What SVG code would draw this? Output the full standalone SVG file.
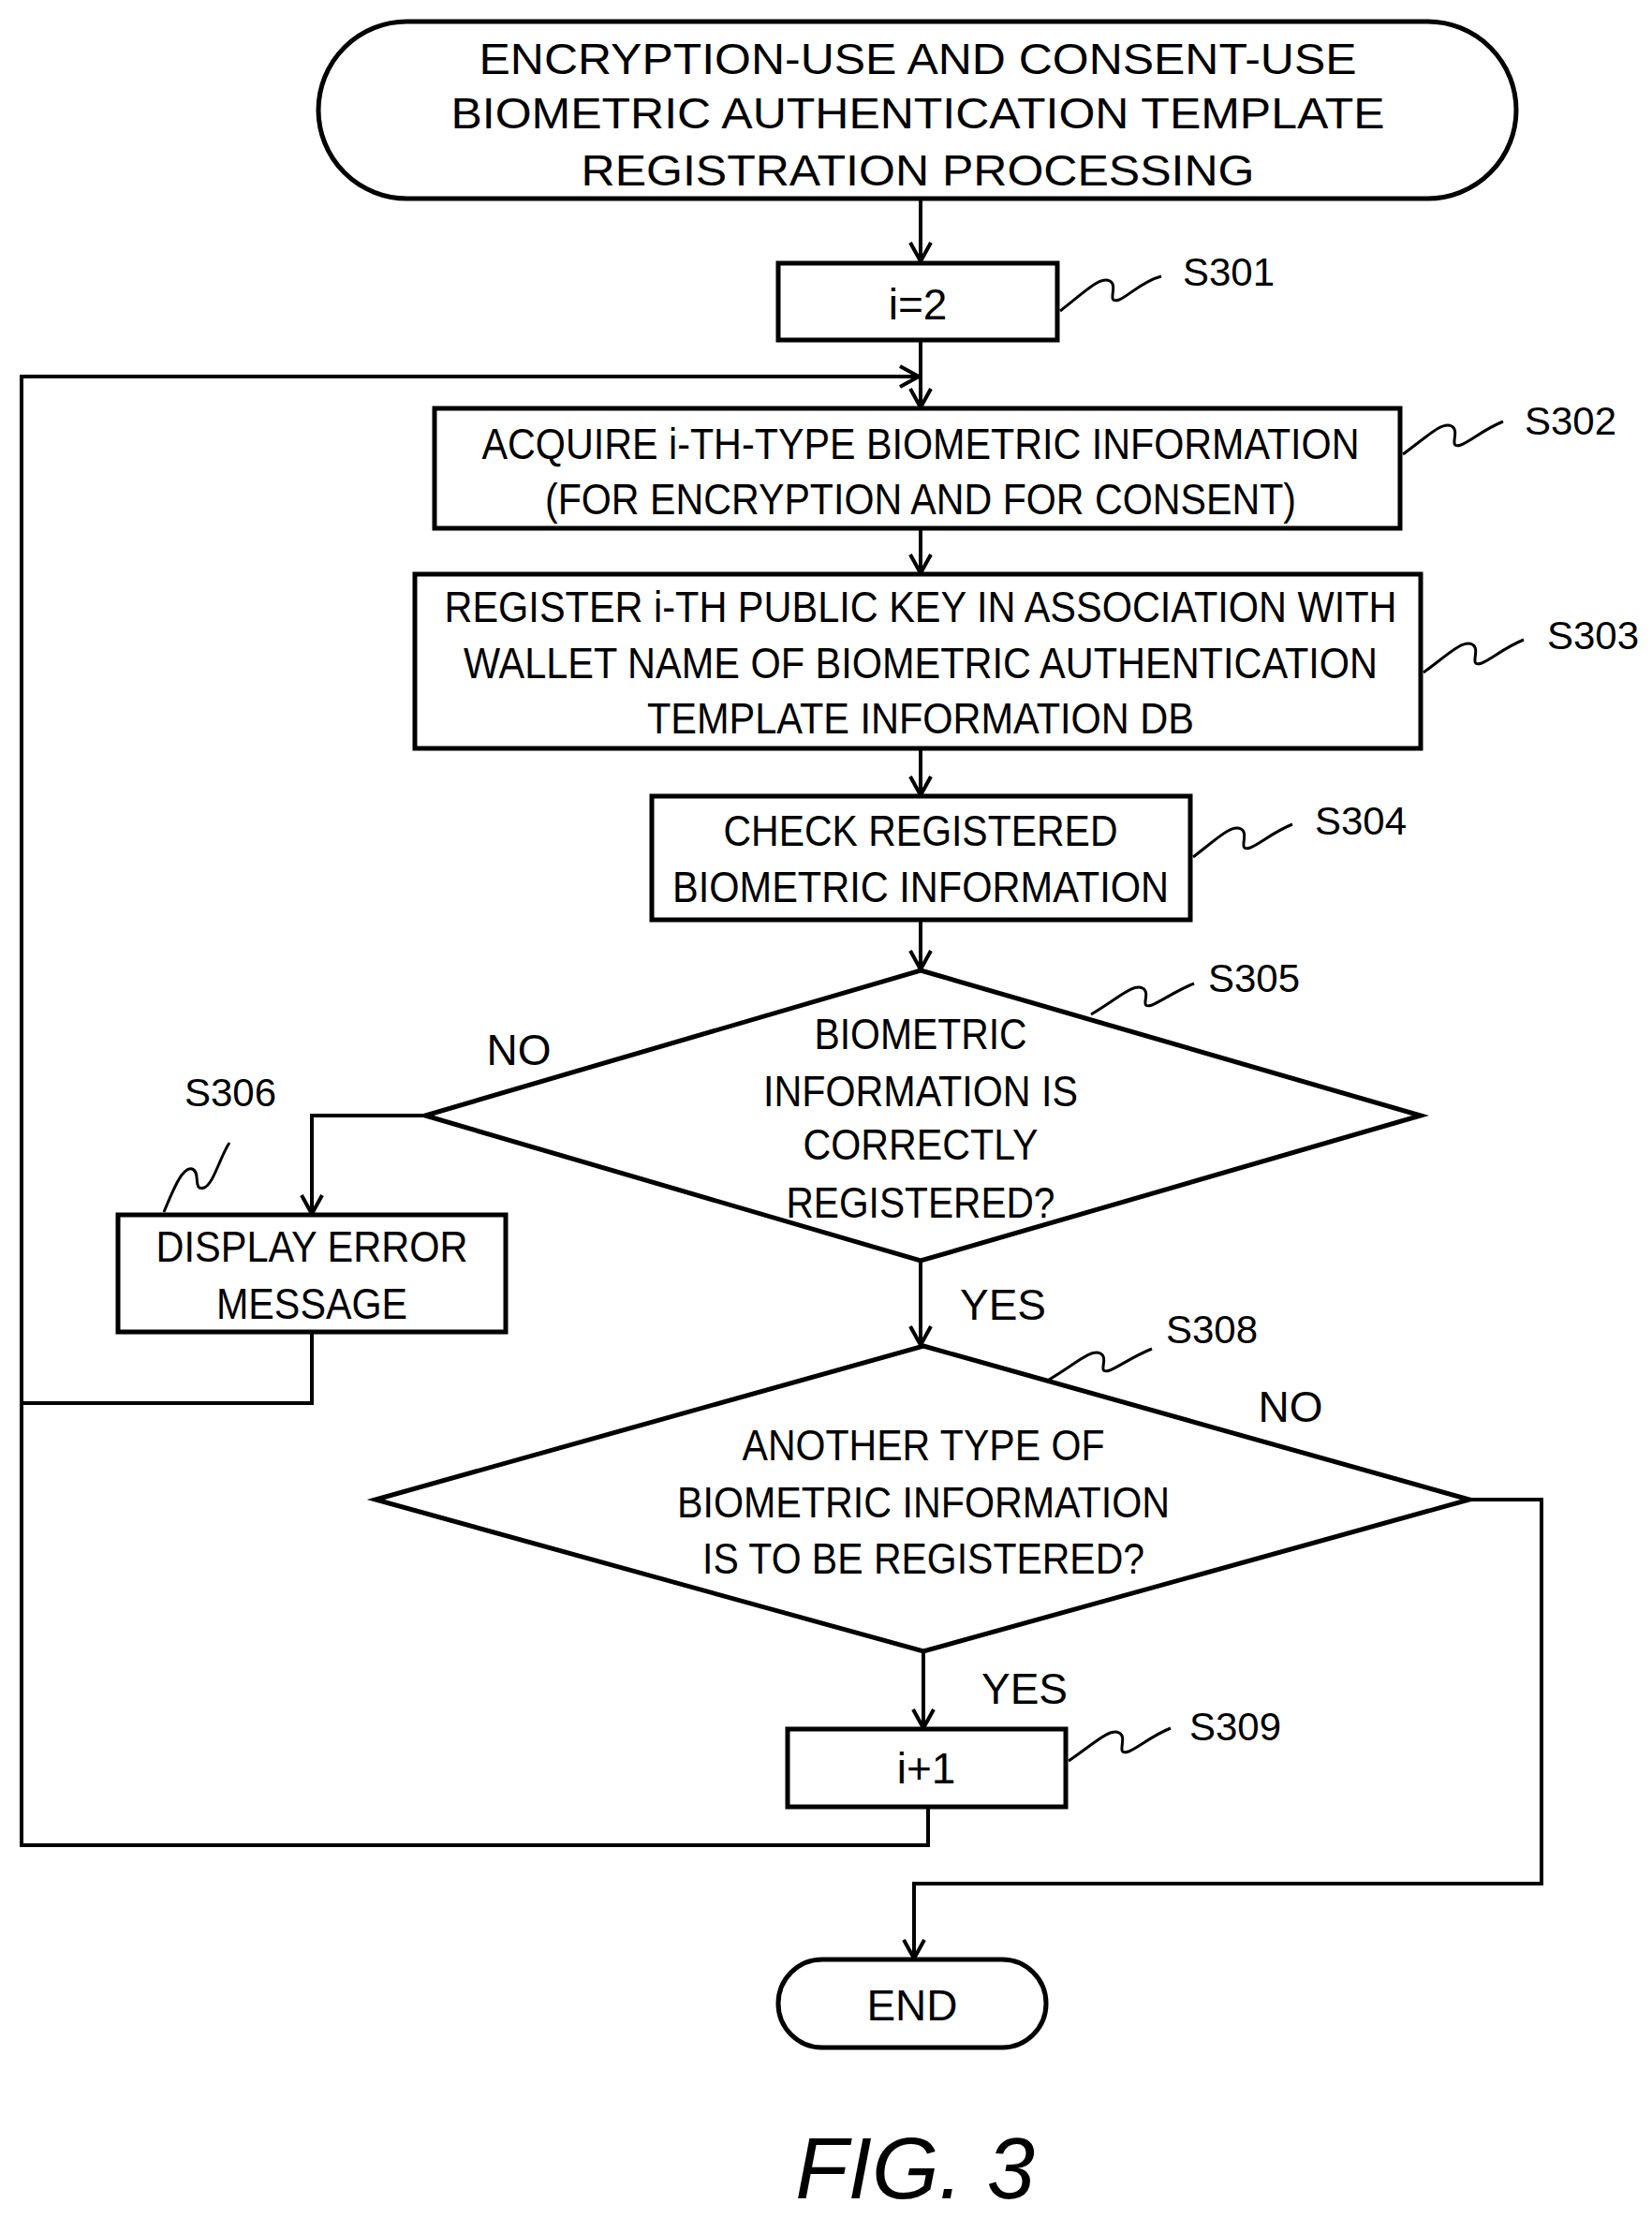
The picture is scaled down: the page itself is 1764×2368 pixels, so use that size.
<svg xmlns="http://www.w3.org/2000/svg" width="1764" height="2368" viewBox="0 0 1764 2368">
<defs>
<marker id="ah" markerWidth="26" markerHeight="26" refX="24" refY="13" orient="auto" markerUnits="userSpaceOnUse" viewBox="0 0 26 26">
<path d="M4,2 L24,13 L4,24" fill="none" stroke="#000" stroke-width="4"/>
</marker>
</defs>
<style>
.s{fill:#fff;stroke:#000;stroke-width:5}
.c{fill:none;stroke:#000;stroke-width:4}
.q{fill:none;stroke:#000;stroke-width:3}
text{font-family:"Liberation Sans",Arial,sans-serif;font-size:46px;fill:#000;text-anchor:middle;dominant-baseline:central}
.l{font-size:42px;text-anchor:start}
</style>
<rect width="1764" height="2368" fill="#fff"/>
<g id="connectors">
<path class="c" d="M983,212 V279" marker-end="url(#ah)"/>
<path class="c" d="M983,363 V435" marker-end="url(#ah)"/>
<path class="c" d="M983,564 V612" marker-end="url(#ah)"/>
<path class="c" d="M983,799 V849" marker-end="url(#ah)"/>
<path class="c" d="M983,982 V1035" marker-end="url(#ah)"/>
<path class="c" d="M454,1191 H333 V1296" marker-end="url(#ah)"/>
<path class="c" d="M333,1422 V1498 H23 V402 H981" marker-end="url(#ah)"/>
<path class="c" d="M983,1346 V1436" marker-end="url(#ah)"/>
<path class="c" d="M986,1763 V1845" marker-end="url(#ah)"/>
<path class="c" d="M991,1929 V1970 H23 V1498"/>
<path class="c" d="M1569,1601 H1646 V2011 H976 V2091" marker-end="url(#ah)"/>
<text x="554" y="1121">NO</text>
<text x="1071" y="1393">YES</text>
<text x="1378" y="1502">NO</text>
<text x="1094" y="1803">YES</text>
</g>
<g id="start">
<rect class="s" x="340" y="23" width="1279" height="189" rx="94.5"/>
<text x="980" y="63" textLength="937" lengthAdjust="spacingAndGlyphs">ENCRYPTION-USE AND CONSENT-USE</text>
<text x="980" y="121" textLength="997" lengthAdjust="spacingAndGlyphs">BIOMETRIC AUTHENTICATION TEMPLATE</text>
<text x="980" y="182" textLength="719" lengthAdjust="spacingAndGlyphs">REGISTRATION PROCESSING</text>
</g>
<g id="S301">
<rect class="s" x="831" y="281" width="298" height="82"/>
<text x="980" y="325">i=2</text>
<path class="q" d="M1132,332 C1160,310 1175,295 1185,300 C1195,305 1180,325 1195,320 C1205,316 1220,300 1240,295"/>
<text class="l" x="1263" y="290">S301</text>
</g>
<g id="S302">
<rect class="s" x="464" y="436" width="1031" height="128"/>
<text x="983" y="474" textLength="937" lengthAdjust="spacingAndGlyphs">ACQUIRE i-TH-TYPE BIOMETRIC INFORMATION</text>
<text x="983" y="533" textLength="802" lengthAdjust="spacingAndGlyphs">(FOR ENCRYPTION AND FOR CONSENT)</text>
<path class="q" d="M1498,485 C1525,465 1540,450 1550,455 C1560,460 1545,480 1560,475 C1570,471 1585,458 1605,450"/>
<text class="l" x="1628" y="449">S302</text>
</g>
<g id="S303">
<rect class="s" x="443" y="613" width="1074" height="186"/>
<text x="983" y="648" textLength="1017" lengthAdjust="spacingAndGlyphs">REGISTER i-TH PUBLIC KEY IN ASSOCIATION WITH</text>
<text x="983" y="708" textLength="976" lengthAdjust="spacingAndGlyphs">WALLET NAME OF BIOMETRIC AUTHENTICATION</text>
<text x="983" y="767" textLength="584" lengthAdjust="spacingAndGlyphs">TEMPLATE INFORMATION DB</text>
<path class="q" d="M1520,718 C1547,698 1562,683 1572,688 C1582,693 1567,713 1582,708 C1592,704 1607,691 1627,683"/>
<text class="l" x="1652" y="678">S303</text>
</g>
<g id="S304">
<rect class="s" x="696" y="850" width="575" height="132"/>
<text x="983" y="887" textLength="421" lengthAdjust="spacingAndGlyphs">CHECK REGISTERED</text>
<text x="983" y="947" textLength="530" lengthAdjust="spacingAndGlyphs">BIOMETRIC INFORMATION</text>
<path class="q" d="M1274,915 C1300,895 1315,880 1325,885 C1335,890 1320,910 1335,905 C1345,901 1360,888 1380,880"/>
<text class="l" x="1404" y="876">S304</text>
</g>
<g id="S305">
<polygon class="s" points="983,1036 1517,1191 983,1346 454,1191"/>
<text x="983" y="1104" textLength="227" lengthAdjust="spacingAndGlyphs">BIOMETRIC</text>
<text x="983" y="1165" textLength="336" lengthAdjust="spacingAndGlyphs">INFORMATION IS</text>
<text x="983" y="1222" textLength="251" lengthAdjust="spacingAndGlyphs">CORRECTLY</text>
<text x="983" y="1284" textLength="287" lengthAdjust="spacingAndGlyphs">REGISTERED?</text>
<path class="q" d="M1165,1083 C1195,1065 1210,1050 1220,1055 C1230,1060 1215,1078 1230,1073 C1240,1069 1255,1058 1275,1050"/>
<text class="l" x="1290" y="1044">S305</text>
</g>
<g id="S306">
<rect class="s" x="126" y="1297" width="414" height="125"/>
<text x="333" y="1331" textLength="333" lengthAdjust="spacingAndGlyphs">DISPLAY ERROR</text>
<text x="333" y="1392" textLength="204" lengthAdjust="spacingAndGlyphs">MESSAGE</text>
<path class="q" d="M175,1294 C185,1270 195,1245 205,1248 C215,1251 205,1272 218,1268 C228,1264 235,1235 245,1220"/>
<text class="l" x="197" y="1166">S306</text>
</g>
<g id="S308">
<polygon class="s" points="986,1437 1569,1601 986,1763 401,1601"/>
<text x="986" y="1543" textLength="387" lengthAdjust="spacingAndGlyphs">ANOTHER TYPE OF</text>
<text x="986" y="1604" textLength="526" lengthAdjust="spacingAndGlyphs">BIOMETRIC INFORMATION</text>
<text x="986" y="1664" textLength="472" lengthAdjust="spacingAndGlyphs">IS TO BE REGISTERED?</text>
<path class="q" d="M1120,1473 C1150,1455 1165,1440 1175,1445 C1185,1450 1170,1468 1185,1463 C1195,1459 1210,1448 1230,1440"/>
<text class="l" x="1245" y="1419">S308</text>
</g>
<g id="S309">
<rect class="s" x="841" y="1846" width="297" height="83"/>
<text x="989" y="1888">i+1</text>
<path class="q" d="M1141,1880 C1170,1860 1185,1845 1195,1850 C1205,1855 1190,1875 1205,1870 C1215,1866 1230,1853 1250,1845"/>
<text class="l" x="1270" y="1843">S309</text>
</g>
<g id="end">
<rect class="s" x="831" y="2092" width="286" height="94" rx="47"/>
<text x="974" y="2141">END</text>
</g>
<text x="977" y="2315" style="font-size:92px;font-style:italic">FIG. 3</text>
</svg>
